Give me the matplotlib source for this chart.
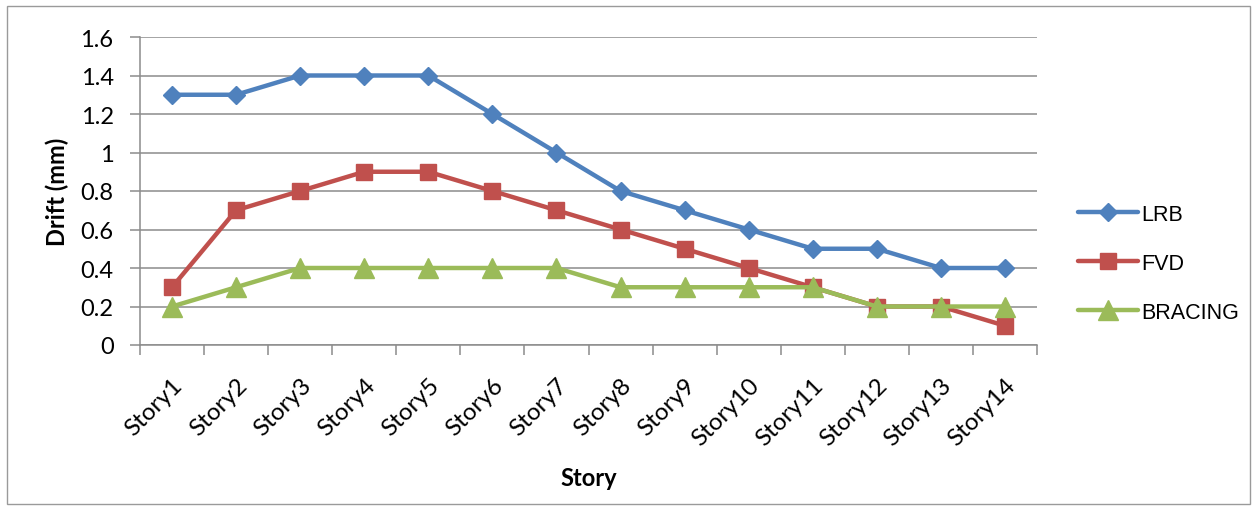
import matplotlib
matplotlib.use("Agg")
import matplotlib.pyplot as plt
from matplotlib.patches import Rectangle
import numpy as np

stories = ["Story1", "Story2", "Story3", "Story4", "Story5", "Story6", "Story7",
           "Story8", "Story9", "Story10", "Story11", "Story12", "Story13", "Story14"]
lrb = [1.3, 1.3, 1.4, 1.4, 1.4, 1.2, 1.0, 0.8, 0.7, 0.6, 0.5, 0.5, 0.4, 0.4]
fvd = [0.3, 0.7, 0.8, 0.9, 0.9, 0.8, 0.7, 0.6, 0.5, 0.4, 0.3, 0.2, 0.2, 0.1]
bracing = [0.2, 0.3, 0.4, 0.4, 0.4, 0.4, 0.4, 0.3, 0.3, 0.3, 0.3, 0.2, 0.2, 0.2]
y_ticks = [0, 0.2, 0.4, 0.6, 0.8, 1, 1.2, 1.4, 1.6]
y_tick_labels = ["0", "0.2", "0.4", "0.6", "0.8", "1", "1.2", "1.4", "1.6"]

plt.rcParams["font.family"] = ["Lato", "DejaVu Sans"]

fig = plt.figure(figsize=(12.54, 5.10), dpi=100)
fig.patches.append(Rectangle((7 / 1254, 5 / 510), 1243 / 1254, 498 / 510,
                             transform=fig.transFigure, fill=False,
                             edgecolor="#9a9a9a", linewidth=1.0))

ax = fig.add_axes([140 / 1254, 1 - 346 / 510, 897 / 1254, 308 / 510])

x = np.arange(len(stories))
ax.plot(x, lrb, color="#4F81BD", lw=3.2, marker="D", ms=9.5, label="LRB",
        solid_capstyle="round", zorder=3)
ax.plot(x, fvd, color="#C0504D", lw=3.2, marker="s", ms=12, label="FVD",
        solid_capstyle="round", zorder=4)
ax.plot(x, bracing, color="#9BBB59", lw=3.2, marker="^", ms=14, label="BRACING",
        solid_capstyle="round", zorder=5)

ax.set_xlim(-0.5, len(stories) - 0.5)
ax.set_ylim(0, 1.6)
ax.set_yticks(y_ticks)
ax.set_yticklabels(y_tick_labels, fontsize=17)
ax.yaxis.grid(True, color="#8c8c8c", linewidth=1.1)
ax.set_axisbelow(True)

ax.set_xticks(x)
ax.set_xticklabels(stories, rotation=45, ha="right", rotation_mode="anchor",
                   fontsize=17.5)
ax.set_xticks(np.arange(len(stories) + 1) - 0.5, minor=True)
ax.tick_params(axis="x", which="major", length=0, pad=21)
ax.tick_params(axis="x", which="minor", length=7, color="#8c8c8c", width=1.1)
ax.tick_params(axis="y", length=7, color="#8c8c8c", width=1.1, pad=12)

for side in ("top", "right"):
    ax.spines[side].set_visible(False)
for side in ("left", "bottom"):
    ax.spines[side].set_color("#8c8c8c")
    ax.spines[side].set_linewidth(1.1)

ax.set_ylabel("Drift (mm)", fontsize=17, fontweight="bold", labelpad=8)
ax.set_xlabel("Story", fontsize=17, fontweight="bold", labelpad=12)

leg = ax.legend(loc="center left", bbox_to_anchor=(1.024, 0.266), frameon=False,
                prop={"family": ["Liberation Sans", "DejaVu Sans"], "size": 15.5},
                handlelength=2.8, handletextpad=0.12, labelspacing=1.3)

fig.savefig("out.png", dpi=100)
